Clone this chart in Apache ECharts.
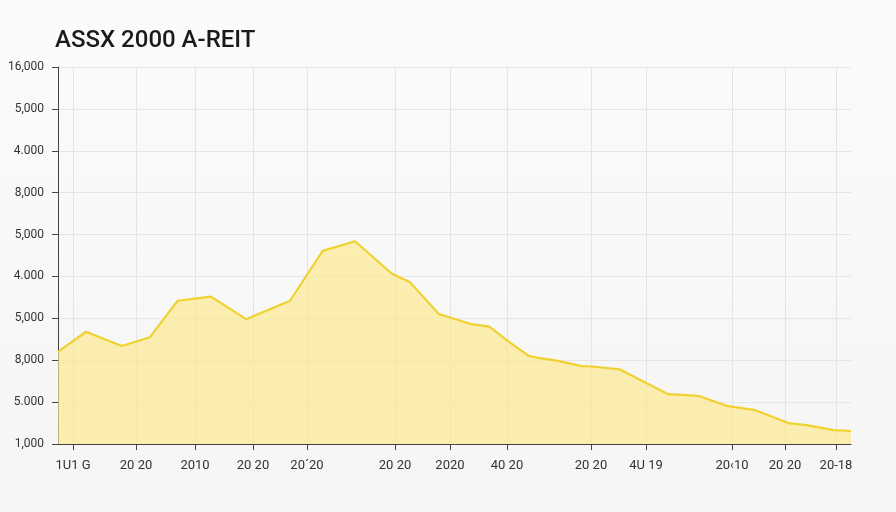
<!DOCTYPE html>
<html>
<head>
<meta charset="utf-8">
<script src="https://cdn.jsdelivr.net/npm/echarts@6/dist/echarts.min.js"></script>
<style>
html,body{margin:0;padding:0;}
body{background:linear-gradient(180deg,#fbfbfb 0%,#f5f5f5 100%);}
#c{width:896px;height:512px;}
</style>
</head>
<body>
<div id="c"></div>
<script>
// y tick labels (bottom to top), one per axis step
var yTickLabels = ['1,000','5.000','8,000','5,000','4.000','5,000','8,000','4.000','5,000','16,000'];
// x tick positions (axis units) and their labels
var xTickPos = [1.89, 9.84, 17.28, 24.59, 31.40, 42.50, 49.43, 56.62, 67.21, 74.15, 84.99, 91.68, 98.11];
var xTickLabels = ['1U1 G','20 20','2010','20 20','20\u00B420','20 20','2020','40 20','20 20','4U 19','20\u203910','20 20','20-18'];
// series: x positions and values
var seriesX = [0, 3.53, 8.03, 11.60, 15.09, 19.29, 23.71, 29.26, 33.38, 37.45, 42.08, 44.39, 48.05, 49.43, 52.17, 54.39, 56.58, 59.31, 60.37, 62.89, 66.04, 67.30, 70.87, 74.24, 76.96, 80.74, 84.33, 87.89, 92.09, 94.41, 97.77, 100];
var seriesY = [2.20, 2.68, 2.34, 2.55, 3.42, 3.52, 2.98, 3.42, 4.61, 4.84, 4.07, 3.86, 3.10, 3.02, 2.86, 2.80, 2.48, 2.11, 2.06, 1.99, 1.86, 1.85, 1.78, 1.45, 1.19, 1.15, 0.91, 0.81, 0.50, 0.45, 0.33, 0.31];

var data = seriesX.map(function(x,i){return [x, seriesY[i]];});
var labelMap = {};
xTickPos.forEach(function(p,i){labelMap[p]=xTickLabels[i];});

var chart = echarts.init(document.getElementById('c'), null, {renderer:'canvas'});
chart.setOption({
  backgroundColor: 'transparent',
  animation: false,
  title: {
    text: 'ASSX 2000 A-REIT',
    left: 50, top: 24,
    textStyle: {fontFamily: 'Roboto, sans-serif', fontSize: 24, fontWeight: 500, color: '#1a1a1a'}
  },
  grid: {left: 58, right: 45, top: 67, bottom: 68},
  xAxis: {
    type: 'value', min: 0, max: 100,
    axisLine: {show: true, lineStyle: {color: '#444', width: 1}},
    axisTick: {show: true, customValues: xTickPos, length: 6, lineStyle: {color: '#444'}},
    axisLabel: {
      customValues: xTickPos, margin: 15,
      fontFamily: 'Roboto, sans-serif', fontSize: 13, color: '#333',
      formatter: function(v){ return labelMap[v] !== undefined ? labelMap[v] : ''; }
    },
    splitLine: {show: true, lineStyle: {color: '#e4e4e4'}}
  },
  yAxis: {
    type: 'value', min: 0, max: 9, interval: 1,
    axisLine: {show: true, lineStyle: {color: '#444', width: 1}},
    axisTick: {show: true, length: 6, lineStyle: {color: '#444'}},
    axisLabel: {
      margin: 14, fontFamily: 'Roboto, sans-serif', fontSize: 12, color: '#333',
      formatter: function(v){ return yTickLabels[Math.round(v)]; }
    },
    splitLine: {show: true, lineStyle: {color: '#e6e6e6'}}
  },
  series: [{
    type: 'line',
    data: data,
    symbol: 'none',
    lineStyle: {color: '#efd22f', width: 2.2},
    areaStyle: {color: 'rgba(253,232,140,0.95)'}
  }]
});
</script>
</body>
</html>
